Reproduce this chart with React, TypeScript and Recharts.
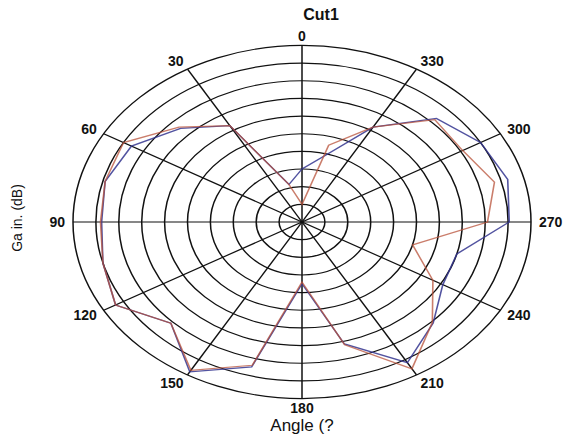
import { PolarAngleAxis, PolarGrid, PolarRadiusAxis, Radar, RadarChart } from "recharts";

const angles = [0, 15, 30, 45, 60, 75, 90, 105, 120, 135, 150, 165, 180, 195, 210, 225, 240, 255, 270, 285, 300, 315, 330, 345];
const gainBlue = [-35, -39, -18.5, -12.5, -7, -5.5, -6.25, -5, -3, -9.5, -1, -7.5, -32.5, -14.25, -4, -9.5, -14.5, -15, -4.75, -3.5, -5, -8.5, -19, -30.5];
const gainRed = [-45, -39, -18.5, -12, -5, -5.5, -6, -5, -3, -9.5, -1.5, -8, -33, -14, -2, -9.75, -17, -25, -9.5, -6.5, -9.5, -9, -19, -27.5];
const spokeLabels = [0, 30, 60, 90, 120, 150, 180, 210, 240, 270, 300, 330];

const data = angles.map((a, i) => ({ angle: a, blue: gainBlue[i], red: gainRed[i] }));

// the plot is a circle squashed into an ellipse
const K = 0.771;
const CX = 302;
const CY = 260;
const R = 229;
const font = "'Liberation Sans', Arial, sans-serif";

function AngleTick(props: any) {
	const { x, y, payload } = props;
	const a = (payload.coordinate * Math.PI) / 180;
	const c = Math.cos(a);
	const s = Math.sin(a);
	const anchor = c > 0.1 ? "start" : c < -0.1 ? "end" : "middle";
	return (
		<text
			transform={`translate(${x},${y}) scale(1,${1 / K})`}
			textAnchor={anchor}
			dominantBaseline="central"
			dy={-s * 3}
			fontSize={14}
			fontWeight="bold"
			fontFamily={font}
			fill="#111"
		>
			{payload.value}
		</text>
	);
}

export default function App() {
	return (
		<div style={{ position: "absolute", left: 0, top: 0, width: 565, height: 438, overflow: "hidden", background: "#fff" }}>
			<div
				style={{
					position: "absolute",
					left: 0,
					top: 221.5 - CY,
					transform: `scaleY(${K})`,
					transformOrigin: `${CX}px ${CY}px`,
				}}
			>
				<RadarChart width={565} height={520} cx={CX} cy={CY} outerRadius={R} startAngle={90} endAngle={450} data={data}>
					<PolarGrid gridType="circle" stroke="#111" strokeWidth={1.5} />
					<PolarAngleAxis
						dataKey="angle"
						type="number"
						domain={[0, 360]}
						ticks={spokeLabels}
						tick={<AngleTick />}
						tickLine={false}
						axisLine={false}
					/>
					<PolarRadiusAxis domain={[-50, 0]} tickCount={11} tick={false} axisLine={false} />
					<Radar dataKey="blue" stroke="#34358f" strokeWidth={1.6} strokeOpacity={0.85} fill="none" fillOpacity={0} dot={false} isAnimationActive={false} />
					<Radar dataKey="red" stroke="#b8523a" strokeWidth={1.6} strokeOpacity={0.75} fill="none" fillOpacity={0} dot={false} isAnimationActive={false} />
				</RadarChart>
			</div>
			<svg width={565} height={438} style={{ position: "absolute", left: 0, top: 0, pointerEvents: "none" }}>
				<text x={321} y={14} textAnchor="middle" dominantBaseline="central" fontSize={16} fontWeight="bold" fontFamily={font} fill="#111">
					Cut1
				</text>
				<text x={302} y={425} textAnchor="middle" dominantBaseline="central" fontSize={17} fontFamily={font} fill="#111">
					Angle (?
				</text>
				<text
					transform="translate(17,218) rotate(-90)"
					textAnchor="middle"
					dominantBaseline="central"
					fontSize={14}
					fontFamily={font}
					fill="#111"
				>
					Ga in. (dB)
				</text>
			</svg>
		</div>
	);
}
